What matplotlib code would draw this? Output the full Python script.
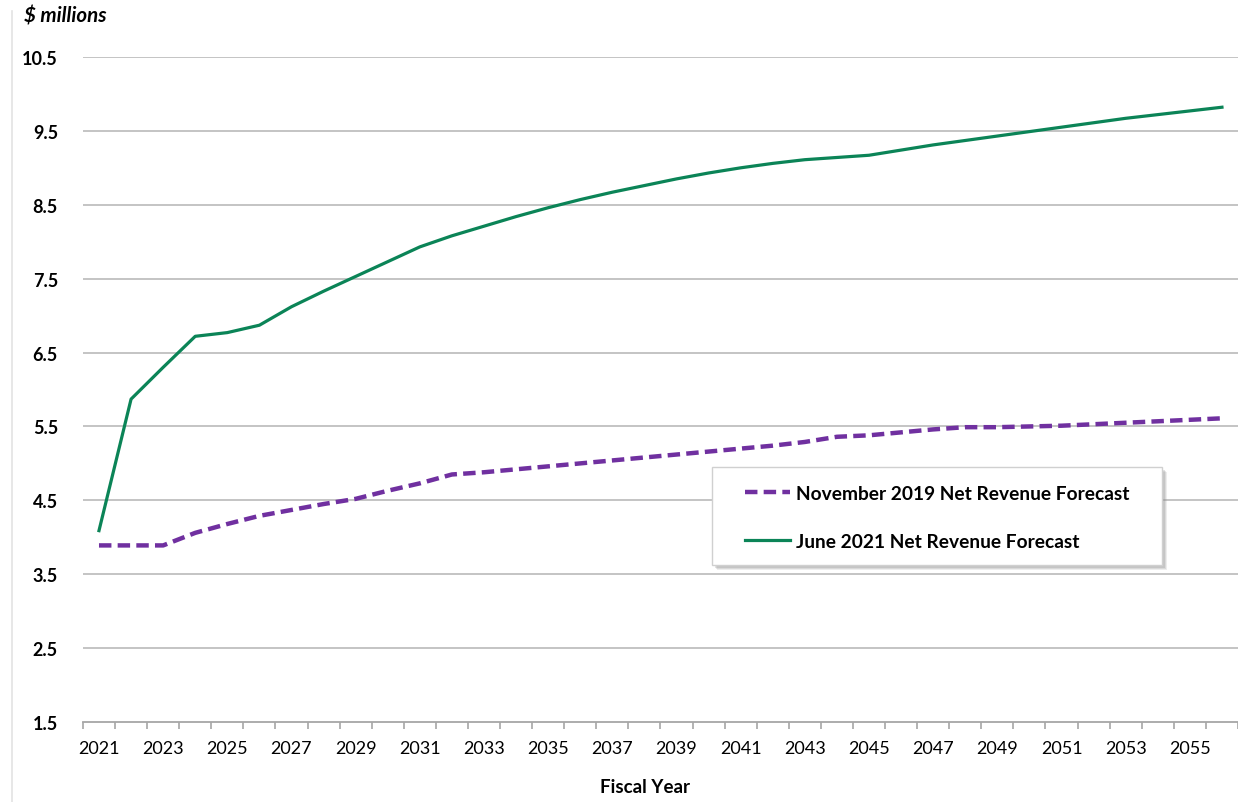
import matplotlib
matplotlib.use('Agg')
import matplotlib.pyplot as plt
from matplotlib.lines import Line2D
from matplotlib.patches import Rectangle

plt.rcParams['font.family'] = ['Lato', 'DejaVu Sans']

years = list(range(2021, 2057))
nov2019 = [3.89, 3.89, 3.89, 4.06, 4.18, 4.29, 4.37, 4.45, 4.52, 4.63,
           4.73, 4.85, 4.88, 4.92, 4.96, 5.00, 5.04, 5.08, 5.12, 5.16,
           5.20, 5.24, 5.29, 5.36, 5.38, 5.42, 5.46, 5.49, 5.49, 5.50,
           5.51, 5.53, 5.55, 5.57, 5.59, 5.61]
jun2021 = [4.09, 5.87, 6.30, 6.72, 6.77, 6.87, 7.12, 7.33, 7.53, 7.73,
           7.93, 8.08, 8.21, 8.34, 8.46, 8.57, 8.67, 8.76, 8.85, 8.93,
           9.00, 9.06, 9.11, 9.14, 9.17, 9.24, 9.31, 9.37, 9.43, 9.49,
           9.55, 9.61, 9.67, 9.72, 9.77, 9.82]
yticks = [1.5, 2.5, 3.5, 4.5, 5.5, 6.5, 7.5, 8.5, 9.5, 10.5]
xlabels = years[::2]

purple = '#7030A0'
green = '#0B8457'
grid = '#BFBFBF'

fig = plt.figure(figsize=(12.38, 8.03), dpi=100)
ax = fig.add_axes([0.0670, 0.0996, 0.9330, 0.8282])

for y in yticks[1:]:
    ax.axhline(y, color=grid, lw=1.3, zorder=1)

ax.plot(years, nov2019, color=purple, lw=3.2, dashes=(2.8, 1.4),
        label='November 2019 Net Revenue Forecast', zorder=3)
ax.plot(years, jun2021, color=green, lw=2.3,
        label='June 2021 Net Revenue Forecast', zorder=3)

ax.set_xlim(2020.5, 2056.5)
ax.set_ylim(1.5, 10.5)
ax.set_yticks(yticks)
ax.set_yticklabels([f'{v:.1f}' for v in yticks], fontweight='bold', fontsize=13)
ax.tick_params(axis='y', length=0, pad=18)

ax.set_xticks(xlabels)
ax.set_xticklabels([str(v) for v in xlabels], fontsize=13)
ax.set_xticks([y - 0.5 for y in years] + [2056.5], minor=True)
ax.tick_params(axis='x', which='major', length=0, pad=13)
ax.tick_params(axis='x', which='minor', length=5, color='#A6A6A6', width=1.2)

for s in ['top', 'right', 'left']:
    ax.spines[s].set_visible(False)
ax.spines['bottom'].set_color('#A6A6A6')
ax.spines['bottom'].set_linewidth(1.3)

fig.text(0.0194, 0.979, '$ millions', fontsize=14.8, fontweight='bold',
         fontstyle='italic', ha='left', va='center')
fig.text(0.521, 0.019, 'Fiscal Year', fontsize=13.5, fontweight='bold',
         ha='center', va='center')

fig.add_artist(Line2D([0.0097, 0.0097], [0.0, 0.985], color='#E3E3E3', lw=1.2))

# legend box with a soft shadow, drawn by hand
for off, a in [(5, 0.15), (4, 0.2), (3, 0.25)]:
    fig.add_artist(Rectangle((0.5751 + off / 1238, 0.2951 - off / 803), 0.3635, 0.122,
                             transform=fig.transFigure, facecolor='#8C8C8C',
                             edgecolor='none', alpha=a, zorder=4))
fig.add_artist(Rectangle((0.5751, 0.2951), 0.3635, 0.122, transform=fig.transFigure,
                         facecolor='white', edgecolor='#D0D0D0', lw=1.0, zorder=5))

leg = ax.legend(loc='upper left', bbox_to_anchor=(0.6018, 0.3948),
                bbox_transform=fig.transFigure, frameon=False,
                handlelength=2.35, borderpad=0, labelspacing=1.62,
                handletextpad=0.3, borderaxespad=0,
                prop={'weight': 'bold', 'size': 13.8})
leg.set_zorder(6)
leg.remove()
fig.add_artist(leg)

fig.savefig('out.png', dpi=100)
